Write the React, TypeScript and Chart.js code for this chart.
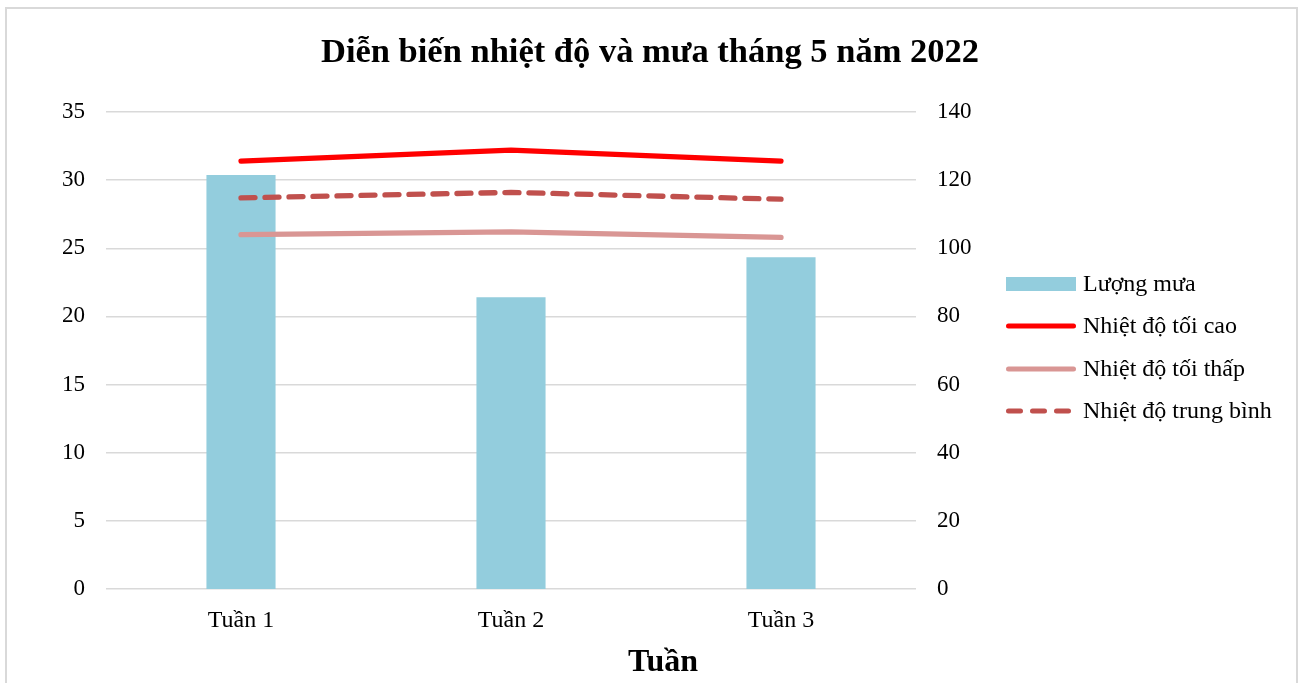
import React, { useEffect, useRef } from "react";
import { Chart, registerables } from "chart.js";

Chart.register(...registerables);

const chartTitle = "Diễn biến nhiệt độ và mưa tháng 5 năm 2022";
const xAxisTitle = "Tuần";
const categories = ["Tuần 1", "Tuần 2", "Tuần 3"];
const seriesNames = ["Lượng mưa", "Nhiệt độ tối cao", "Nhiệt độ tối thấp", "Nhiệt độ trung bình"];
const rainfall = [121.5, 85.6, 97.4];
const tempMax = [31.4, 32.2, 31.4];
const tempMin = [26.0, 26.2, 25.8];
const tempAvg = [28.7, 29.1, 28.6];
const leftAxisMax = 35;
const leftAxisStep = 5;
const rightAxisMax = 140;
const rightAxisStep = 20;

const FONT = '"Liberation Serif", "Times New Roman", serif';
const COLORS = {
  bar: "#93CDDD",
  max: "#FF0000",
  min: "#D99694",
  avg: "#C0504D",
  grid: "#D9D9D9",
  text: "#000000",
};

const customPlugin = {
  id: "customDecor",
  afterDraw(chart: any) {
    const ctx = chart.ctx;
    const area = chart.chartArea;
    ctx.save();
    // x-axis title
    ctx.font = `bold 32px ${FONT}`;
    ctx.fillStyle = COLORS.text;
    ctx.textAlign = "center";
    ctx.textBaseline = "middle";
    ctx.fillText(xAxisTitle, 663, 663);

    // legend
    const lx0 = area.right + 90;
    const lx1 = lx0 + 70;
    const tx = lx1 + 7;
    const ys = [284, 326, 369, 411];
    ctx.font = `24px ${FONT}`;
    ctx.textAlign = "left";
    ctx.textBaseline = "middle";
    chart.data.datasets.forEach((ds: any, i: number) => {
      const y = ys[i];
      if (ds.type === "bar") {
        ctx.fillStyle = ds.backgroundColor;
        ctx.fillRect(lx0, y - 7, lx1 - lx0, 14);
      } else {
        ctx.strokeStyle = ds.borderColor;
        ctx.lineWidth = 5;
        ctx.lineCap = "round";
        ctx.setLineDash(ds.borderDash && ds.borderDash.length ? [12, 12] : []);
        ctx.beginPath();
        ctx.moveTo(lx0 + 2.5, y);
        ctx.lineTo(lx1 - 2.5, y);
        ctx.stroke();
        ctx.setLineDash([]);
      }
      ctx.fillStyle = COLORS.text;
      ctx.fillText(ds.label, tx, y + 1);
    });
    ctx.restore();
  },
};

export default function App() {
  const canvasRef = useRef<HTMLCanvasElement | null>(null);

  useEffect(() => {
    if (!canvasRef.current) return;
    const chart = new Chart(canvasRef.current, {
      type: "bar",
      data: {
        labels: categories,
        datasets: [
          {
            type: "bar",
            label: seriesNames[0],
            data: rainfall,
            backgroundColor: COLORS.bar,
            yAxisID: "y1",
            categoryPercentage: 1,
            barPercentage: 0.256,
            order: 2,
          } as any,
          {
            type: "line",
            label: seriesNames[1],
            data: tempMax,
            borderColor: COLORS.max,
            backgroundColor: COLORS.max,
            borderWidth: 5.3,
            borderCapStyle: "round",
            borderJoinStyle: "round",
            pointRadius: 0,
            tension: 0,
            yAxisID: "y",
            order: 1,
          },
          {
            type: "line",
            label: seriesNames[2],
            data: tempMin,
            borderColor: COLORS.min,
            backgroundColor: COLORS.min,
            borderWidth: 5.3,
            borderCapStyle: "round",
            borderJoinStyle: "round",
            pointRadius: 0,
            tension: 0,
            yAxisID: "y",
            order: 1,
          },
          {
            type: "line",
            label: seriesNames[3],
            data: tempAvg,
            borderColor: COLORS.avg,
            backgroundColor: COLORS.avg,
            borderWidth: 5.3,
            borderDash: [14, 10],
            borderCapStyle: "round",
            borderJoinStyle: "round",
            pointRadius: 0,
            tension: 0,
            yAxisID: "y",
            order: 0,
          },
        ],
      },
      options: {
        responsive: false,
        animation: false,
        devicePixelRatio: 1,
        layout: { padding: 0 },
        plugins: {
          legend: { display: false },
          tooltip: { enabled: false },
          title: {
            display: true,
            text: chartTitle,
            color: COLORS.text,
            font: { family: FONT, size: 34.5, weight: "bold" },
            padding: { top: 32, bottom: 38.6 },
          },
        },
        scales: {
          x: {
            grid: { display: false, drawTicks: false },
            border: { display: false },
            ticks: { color: COLORS.text, font: { family: FONT, size: 24 }, padding: 17 },
            afterFit: (s: any) => {
              s.height = 94;
            },
          },
          y: {
            position: "left",
            min: 0,
            max: leftAxisMax,
            ticks: { stepSize: leftAxisStep, color: COLORS.text, font: { family: FONT, size: 23 }, padding: 21 },
            grid: { color: COLORS.grid, lineWidth: 1.5, drawTicks: false },
            border: { display: false },
            afterFit: (s: any) => {
              s.width = 106;
            },
          },
          y1: {
            position: "right",
            min: 0,
            max: rightAxisMax,
            ticks: { stepSize: rightAxisStep, color: COLORS.text, font: { family: FONT, size: 23 }, padding: 21 },
            grid: { display: false, drawTicks: false },
            border: { display: false },
            afterFit: (s: any) => {
              s.width = 384;
            },
          },
        },
      },
      plugins: [customPlugin],
    } as any);
    return () => chart.destroy();
  }, []);

  return (
    <div
      style={{
        position: "fixed",
        left: 0,
        top: 0,
        width: 1300,
        height: 683,
        overflow: "hidden",
        background: "#fff",
      }}
    >
      <div
        style={{
          position: "absolute",
          left: 5,
          top: 7,
          width: 1293,
          height: 720,
          border: "2px solid #D9D9D9",
          boxSizing: "border-box",
        }}
      />
      <canvas
        ref={canvasRef}
        width={1300}
        height={683}
        style={{ position: "absolute", left: 0, top: 0 }}
      />
    </div>
  );
}
